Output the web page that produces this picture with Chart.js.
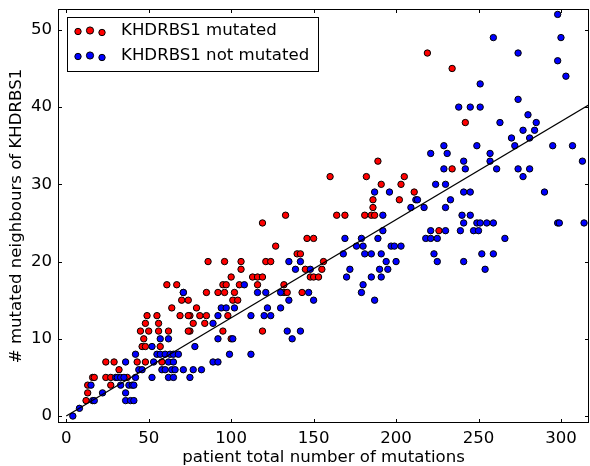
<!DOCTYPE html>
<html>
<head>
<meta charset="utf-8">
<script src="https://cdn.jsdelivr.net/npm/chart.js@4/dist/chart.umd.min.js"></script>
<style>
  body { margin: 0; background: #fff; }
</style>
</head>
<body>
<canvas id="chart" width="590" height="466"></canvas>
<script>
// values
const xTicks = [0, 50, 100, 150, 200, 250, 300];
const yTicks = [0, 10, 20, 30, 40, 50];

const mutatedX = [219, 234, 242, 234, 189, 160, 182, 205, 191, 203, 211, 186, 202, 186, 164, 169, 181, 185, 187, 226, 156, 155,
  133, 119, 146, 150, 127, 140, 142, 86, 96, 106, 121, 124, 106, 145, 100, 113, 116, 119, 148, 150, 153,
  95, 97, 105, 116, 132, 85, 92, 96, 102, 132, 134, 143, 101, 104, 79, 75, 81, 85, 98, 77, 84, 75, 95, 119, 100,
  61, 67, 71, 70, 74, 64, 69, 74, 49, 55, 48, 56, 45, 50, 56, 62, 74, 47, 46, 48, 57, 24, 29, 43, 48, 58, 32,
  16, 17, 24, 27, 37, 13, 27, 13, 12];
const mutatedY = [47, 45, 38, 32, 33, 31, 31, 31, 30, 30, 29, 28, 28, 27, 26, 26, 26, 26, 26, 24, 20, 19,
  26, 25, 23, 23, 22, 21, 21, 20, 20, 20, 20, 20, 19, 19, 18, 18, 18, 18, 18, 18, 18,
  17, 17, 17, 17, 17, 16, 16, 16, 16, 16, 16, 16, 15, 15, 14, 13, 13, 13, 13, 12, 12, 11, 11, 11, 10,
  17, 17, 16, 15, 15, 14, 13, 13, 13, 13, 12, 12, 11, 11, 11, 11, 11, 10, 9, 9, 9, 7, 7, 7, 7, 7, 6,
  5, 5, 5, 5, 5, 4, 4, 3, 2];

const notMutatedX = [298, 259, 300, 274, 298, 303, 251, 274, 238, 245, 251, 280, 263, 285, 277, 284, 270, 281,
  249, 272, 295, 307, 257, 241, 257, 313, 242, 261, 274, 281, 277, 241, 245, 290, 233, 240, 245, 241, 249, 251,
  255, 259, 298, 299, 314, 239, 247, 250, 266, 252, 259, 241, 254,
  229, 221, 231, 229, 224, 230, 187, 196, 212, 213, 209, 217, 230, 192, 192, 221, 230, 169, 179, 189, 218, 221,
  225, 176, 180, 197, 199, 203, 168, 181, 185, 191, 223, 194, 200, 225, 172, 190, 195, 170, 185, 191, 180,
  179, 187, 135, 142, 139, 148,
  108, 116, 121, 130, 147, 135, 150, 94, 97, 102, 122, 130, 92, 112, 120, 124, 89, 134, 142, 92, 101, 137, 78,
  99, 112, 89, 92, 77, 82, 75,
  71, 57, 62, 52, 42, 55, 57, 60, 63, 65, 68, 36, 53, 62, 65, 44, 46, 58, 60, 64, 66, 71, 30, 31, 33, 35, 42,
  52, 62, 65, 15, 33, 38, 40, 41, 22, 36, 16, 17, 36, 39, 41, 8, 4];
const notMutatedY = [52, 49, 49, 47, 46, 44, 43, 41, 40, 40, 40, 39, 38, 38, 37, 37, 36, 36,
  35, 35, 35, 35, 34, 33, 33, 33, 32, 32, 32, 32, 31, 29, 29, 29, 28, 26, 26, 25, 25, 25,
  25, 25, 25, 25, 25, 24, 24, 24, 23, 21, 21, 20, 19,
  35, 34, 34, 32, 30, 30, 29, 29, 28, 28, 27, 27, 27, 26, 24, 24, 24, 23, 23, 23, 23, 23,
  23, 22, 22, 22, 22, 22, 21, 21, 21, 21, 21, 20, 20, 20, 19, 19, 19, 18, 18, 18, 17,
  16, 15, 20, 20, 19, 19,
  17, 16, 16, 16, 16, 15, 15, 14, 14, 14, 14, 14, 13, 13, 13, 13, 12, 11, 11, 10, 10, 10, 9,
  8, 8, 7, 7, 6, 6, 5,
  16, 10, 10, 9, 8, 8, 8, 8, 8, 8, 8, 7, 7, 7, 7, 6, 6, 6, 6, 6, 6, 6, 5, 5, 5, 5, 5,
  5, 5, 5, 4, 4, 4, 4, 4, 3, 3, 2, 2, 2, 2, 2, 1, 0];

const fitX = [0, 317];
const fitY = [0, 40.3];

const FONT = "'DejaVu Sans', sans-serif";
const toPoints = (xs, ys) => xs.map((x, i) => ({ x: x, y: ys[i] }));

// inward ticks on all four sides plus the box
const framePlugin = {
  id: "frame",
  afterDatasetsDraw(chart) {
    const { ctx, chartArea: a, scales } = chart;
    ctx.save();
    ctx.strokeStyle = "#000";
    ctx.lineWidth = 1;
    ctx.beginPath();
    xTicks.forEach((v) => {
      const px = Math.round(scales.x.getPixelForValue(v)) + 0.5;
      ctx.moveTo(px, a.bottom); ctx.lineTo(px, a.bottom - 4);
      ctx.moveTo(px, a.top); ctx.lineTo(px, a.top + 4);
    });
    yTicks.forEach((v) => {
      const py = Math.round(scales.y.getPixelForValue(v)) + 0.5;
      ctx.moveTo(a.left, py); ctx.lineTo(a.left + 4, py);
      ctx.moveTo(a.right, py); ctx.lineTo(a.right - 4, py);
    });
    ctx.stroke();
    ctx.strokeRect(Math.round(a.left) + 0.5, Math.round(a.top) + 0.5,
      Math.round(a.right - a.left) - 1, Math.round(a.bottom - a.top) - 1);
    ctx.restore();
  },
};

const legendPlugin = {
  id: "boxLegend",
  afterDraw(chart) {
    const ctx = chart.ctx;
    const rows = [
      { label: "KHDRBS1 mutated", color: "#ff0000", y: 31 },
      { label: "KHDRBS1 not mutated", color: "#0000ff", y: 56 },
    ];
    ctx.save();
    ctx.fillStyle = "#fff";
    ctx.fillRect(67.5, 17.5, 251, 54);
    ctx.strokeStyle = "#000";
    ctx.lineWidth = 1;
    ctx.strokeRect(67.5, 17.5, 251, 54);
    rows.forEach((r) => {
      [[78, 1, 3.2], [90, 0, 3.6], [102, 2, 3.2]].forEach(([mx, dy, rad]) => {
        ctx.beginPath();
        ctx.arc(mx, r.y + dy - 0.5, rad, 0, Math.PI * 2);
        ctx.fillStyle = r.color;
        ctx.fill();
        ctx.stroke();
      });
      ctx.fillStyle = "#000";
      ctx.font = "16.6px " + FONT;
      ctx.textBaseline = "middle";
      ctx.fillText(r.label, 121, r.y);
    });
    ctx.restore();
  },
};

new Chart(document.getElementById("chart"), {
  type: "scatter",
  data: {
    datasets: [
      {
        label: "fit",
        type: "line",
        data: toPoints(fitX, fitY),
        borderColor: "#000",
        borderWidth: 1.2,
        pointRadius: 0,
        fill: false,
        order: 0,
      },
      {
        label: "KHDRBS1 not mutated",
        data: toPoints(notMutatedX, notMutatedY),
        backgroundColor: "#0000ff",
        borderColor: "#000",
        borderWidth: 1,
        pointRadius: 3.2,
        order: 1,
      },
      {
        label: "KHDRBS1 mutated",
        data: toPoints(mutatedX, mutatedY),
        backgroundColor: "#ff0000",
        borderColor: "#000",
        borderWidth: 1,
        pointRadius: 3.2,
        order: 2,
      },
    ],
  },
  options: {
    responsive: false,
    animation: false,
    layout: { autoPadding: false, padding: { top: 9, right: 1, left: 0, bottom: 0 } },
    plugins: { legend: { display: false }, tooltip: { enabled: false } },
    scales: {
      x: {
        type: "linear",
        min: -5,
        max: 317,
        afterBuildTicks: (s) => { s.ticks = xTicks.map((v) => ({ value: v })); },
        afterFit: (s) => { s.height = 43; s.paddingLeft = 0; s.paddingRight = 0; },
        grid: { display: false, drawTicks: false },
        border: { display: false },
        ticks: { color: "#000", padding: 6, font: { family: FONT, size: 16.6 }, maxRotation: 0 },
        title: {
          display: true,
          text: "patient total number of mutations",
          color: "#000",
          font: { family: FONT, size: 16.6 },
          padding: { top: 0, bottom: -2 },
        },
      },
      y: {
        type: "linear",
        min: -0.9,
        max: 52.7,
        afterBuildTicks: (s) => { s.ticks = yTicks.map((v) => ({ value: v })); },
        afterFit: (s) => { s.width = 58; s.paddingTop = 0; s.paddingBottom = 0; },
        grid: { display: false, drawTicks: false },
        border: { display: false },
        ticks: { color: "#000", padding: 6, font: { family: FONT, size: 16.6 } },
        title: {
          display: true,
          text: "# mutated neighbours of KHDRBS1",
          color: "#000",
          font: { family: FONT, size: 16.6 },
          padding: { top: 7, bottom: 0 },
        },
      },
    },
  },
  plugins: [framePlugin, legendPlugin],
});
</script>
</body>
</html>
